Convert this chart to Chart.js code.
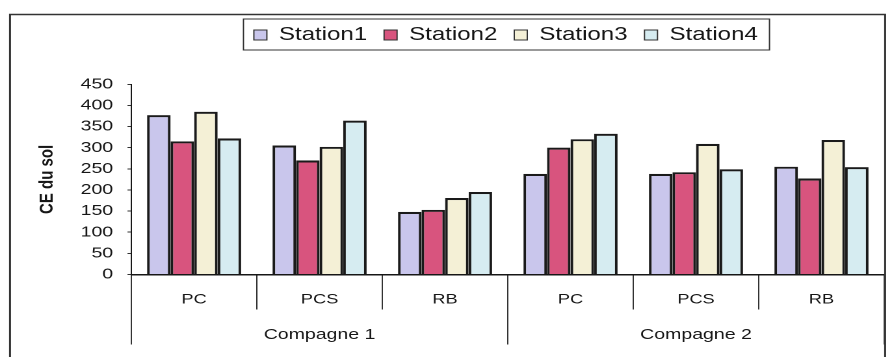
<!DOCTYPE html>
<html>
<head>
<meta charset="utf-8">
<script src="https://cdn.jsdelivr.net/npm/chart.js@4.4.1/dist/chart.umd.min.js"></script>
<style>
  html, body { margin: 0; padding: 0; background: #fff; overflow: hidden; }
  /* the figure is drawn narrow and widened, like the original exported graphic */
  #wrap { width: 686px; height: 357px; transform: scaleX(1.3003); transform-origin: 0 0; }
</style>
</head>
<body>
<div id="wrap"><canvas id="ceChart" width="686" height="357"></canvas></div>
<script>
const categories = ['PC', 'PCS', 'RB', 'PC', 'PCS', 'RB'];
const campaigns = ['Compagne 1', 'Compagne 2'];
const stationNames = ['Station1', 'Station2', 'Station3', 'Station4'];
const station1 = [377, 305, 148, 238, 238, 255];
const station2 = [315, 270, 153, 300, 242, 227];
const station3 = [385, 302, 181, 320, 309, 318];
const station4 = [322, 364, 195, 333, 249, 254];
const yTicks = [0, 50, 100, 150, 200, 250, 300, 350, 400, 450];

const fills = ['#c9c6ec', '#d8547e', '#f4f0d6', '#d6ecf1'];
const ink = '#161616';
const lineInk = '#333';
const FONT = "'Liberation Sans', Arial, sans-serif";

const series = [station1, station2, station3, station4];

// outer frame, bordered legend and room under the legend
const framePlugin = {
    id: 'framePlugin',
    beforeLayout(chart) {
        const lg = chart.legend;
        if (lg && !lg._extraSpace) {
            const fit = lg.fit;
            lg.fit = function () {
                fit.call(this);
                this.height += 30;
            };
            lg._extraSpace = true;
        }
    },
    afterLayout(chart) {
        // legend block sits right of the centre
        chart.legend.left += 39;
        chart.legend.right += 39;
    },
    afterDraw(chart) {
        const ctx = chart.ctx;
        ctx.save();
        ctx.strokeStyle = lineInk;
        ctx.lineWidth = 1.5;
        ctx.strokeRect(7.7, 14.5, 673, 400);

        const boxes = chart.legend.legendHitBoxes;
        if (boxes && boxes.length) {
            const first = boxes[0];
            const last = boxes[boxes.length - 1];
            const cy = first.top + first.height / 2;
            const left = first.left - 8;
            const right = last.left + last.width + 9;
            ctx.lineWidth = 1;
            ctx.strokeRect(left, cy - 16, right - left, 31);
        }
        ctx.restore();
    }
};

// label-only category axes hung from the y = 0 line (not clipped to an axis box)
function labelAxis(labels, size, padding) {
    return {
        type: 'category',
        axis: 'x',
        labels: labels,
        position: { y: 0 },
        offset: true,
        grid: { display: false },
        border: { display: false },
        ticks: {
            padding: padding,
            color: ink,
            autoSkip: false,
            maxRotation: 0,
            font: { family: FONT, size: size },
        },
    };
}

const ctx = document.getElementById('ceChart');
new Chart(ctx, {
    type: 'bar',
    data: {
        labels: categories,
        datasets: series.map((values, i) => ({
            label: stationNames[i],
            data: values,
            backgroundColor: fills[i],
            borderColor: '#1a1a1a',
            borderWidth: 2.1,
            categoryPercentage: 0.75,
            barPercentage: 1.0,
        })),
    },
    options: {
        responsive: false,
        animation: false,
        devicePixelRatio: 2,
        layout: { padding: { left: 20, right: 6, top: 12.75, bottom: 12.5 } },
        plugins: {
            tooltip: { enabled: false },
            legend: {
                position: 'top',
                labels: {
                    color: ink,
                    font: { family: FONT, size: 18.5 },
                    boxWidth: 10,
                    boxHeight: 10,
                    padding: 13,
                    generateLabels(chart) {
                        return Chart.defaults.plugins.legend.labels.generateLabels(chart)
                            .map((item) => Object.assign(item, { lineWidth: 1, strokeStyle: lineInk }));
                    },
                },
            },
        },
        scales: {
            x: {
                position: 'bottom',
                weight: 0,
                offset: true,
                grid: { offset: true, drawOnChartArea: false, tickLength: 35, color: lineInk, lineWidth: 1 },
                border: { display: true, color: ink, width: 1.5 },
                ticks: { display: false },
            },
            campaign: {
                type: 'category',
                axis: 'x',
                labels: campaigns,
                position: 'bottom',
                weight: 1,
                offset: true,
                grid: { offset: true, drawOnChartArea: false, tickLength: 35, color: lineInk, lineWidth: 1 },
                border: { display: false },
                ticks: { display: false },
            },
            siteNames: labelAxis(categories, 14, 8.5),
            campaignNames: labelAxis(campaigns, 15, 43.5),
            y: {
                min: 0,
                max: 450,
                afterBuildTicks(scale) {
                    scale.ticks = yTicks.map((v) => ({ value: v }));
                },
                grid: { drawOnChartArea: false, tickLength: 3, color: lineInk, lineWidth: 1 },
                border: { color: ink, width: 1 },
                ticks: {
                    padding: 11,
                    color: ink,
                    font: { family: FONT, size: 15 },
                },
                title: {
                    display: true,
                    text: 'CE du sol',
                    color: ink,
                    font: { family: FONT, size: 15, weight: 'bold' },
                    padding: { top: 7.5, bottom: 5.5 },
                },
            },
        },
    },
    plugins: [framePlugin],
});
</script>
</body>
</html>
